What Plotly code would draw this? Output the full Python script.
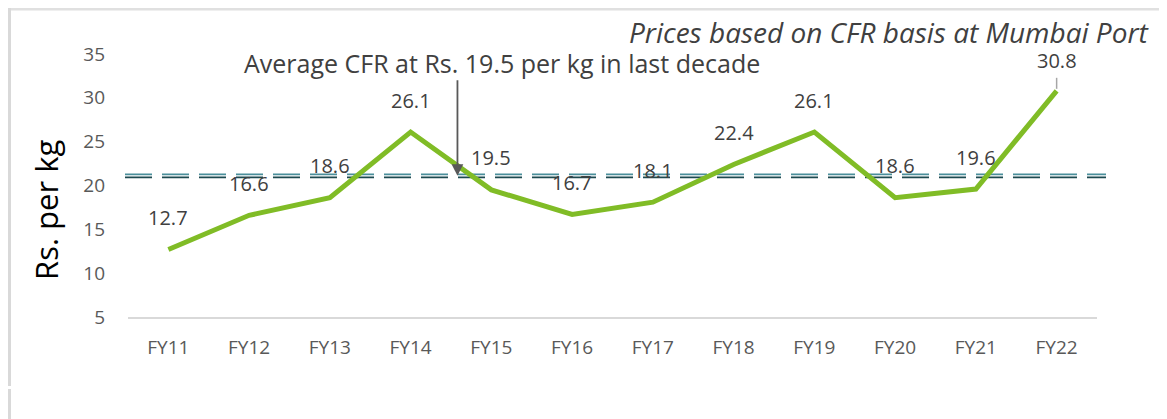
import plotly.graph_objects as go

# ---- data ----
years = ["FY11", "FY12", "FY13", "FY14", "FY15", "FY16", "FY17", "FY18", "FY19", "FY20", "FY21", "FY22"]
prices = [12.7, 16.6, 18.6, 26.1, 19.5, 16.7, 18.1, 22.4, 26.1, 18.6, 19.6, 30.8]
avg_line_level = 21.1
y_ticks = [5, 10, 15, 20, 25, 30, 35]
avg_text = "Average CFR at Rs. 19.5 per kg in last decade"
note_text = "Prices based on CFR basis at Mumbai Port"
y_title = "Rs. per kg"

OFF = 8  # page body margin
W, H = 1167 - OFF, 419 - OFF
L, T = 128 - OFF, 54 - OFF
R = W - (1097 - OFF)
B = H - (317 - OFF)
pw, ph = W - L - R, H - T - B


def px(xp):
    return (xp - OFF - L) / pw


def py(yp):
    return (H - B - (yp - OFF)) / ph


FONT = "Open Sans"
fig = go.Figure()

fig.add_trace(go.Scatter(
    x=years, y=prices, mode="lines",
    line=dict(color="#80bc26", width=5),
    hoverinfo="skip", showlegend=False, cliponaxis=False,
))

# data labels
for i, (yr, v) in enumerate(zip(years, prices)):
    fig.add_annotation(x=yr, y=v, text=f"{v}", showarrow=False,
                       yshift=30 if i == len(years) - 1 else 32, borderpad=0,
                       font=dict(family=FONT, size=20, color="#404040"))

# leader line for FY22
fig.add_shape(type="line", xref="x", yref="y", x0=years[-1], x1=years[-1],
              ysizemode="pixel", yanchor=prices[-1], y0=2, y1=13,
              line=dict(color="#a6a6a6", width=1.5))

# double dashed average line
fig.add_shape(type="line", xref="paper", yref="y", x0=px(125), x1=px(1106),
              ysizemode="pixel", yanchor=avg_line_level, y0=1.5, y1=1.5,
              line=dict(color="#4a8e9a", width=1.6, dash="27px,10px"), layer="below")
fig.add_shape(type="line", xref="paper", yref="y", x0=px(125), x1=px(1106),
              ysizemode="pixel", yanchor=avg_line_level, y0=-1.5, y1=-1.5,
              line=dict(color="#1d4a50", width=1.6, dash="27px,10px"), layer="below")

# arrow
fig.add_annotation(x=3.58, y=avg_line_level, xref="x", yref="y", ax=0, ay=-97,
                   text="", showarrow=True, arrowhead=2, arrowsize=1.3, arrowwidth=1.8,
                   arrowcolor="#595959", standoff=0)

fig.add_annotation(xref="paper", yref="paper", x=px(242), y=py(63), xanchor="left", yanchor="middle",
                   text=avg_text, showarrow=False,
                   font=dict(family=FONT, size=25, color="#404040"))
fig.add_annotation(xref="paper", yref="paper", x=px(1151), y=py(32), xanchor="right", yanchor="middle",
                   text=f"<i>{note_text}</i>", showarrow=False, borderpad=0,
                   font=dict(family=FONT, size=28, color="#404040"))
fig.add_annotation(xref="paper", yref="paper", x=px(46), y=py(210), xanchor="center", yanchor="middle",
                   text=y_title, textangle=-90, showarrow=False,
                   font=dict(family=FONT, size=31, color="#000000"))

# frame
fig.add_shape(type="line", xref="paper", yref="paper", x0=px(9.5), x1=px(9.5), y0=py(8), y1=py(386),
              line=dict(color="#d9d9d9", width=3))
fig.add_shape(type="line", xref="paper", yref="paper", x0=px(9.5), x1=px(9.5), y0=py(389), y1=py(425),
              line=dict(color="#d9d9d9", width=3))
fig.add_shape(type="line", xref="paper", yref="paper", x0=px(11), x1=px(1162), y0=py(9), y1=py(9),
              line=dict(color="#e0e0e0", width=3))
fig.add_shape(type="line", xref="paper", yref="paper", x0=px(1165.5), x1=px(1165.5), y0=py(10), y1=py(425),
              line=dict(color="#d9d9d9", width=1.5))

fig.update_layout(
    width=W, height=H,
    margin=dict(l=L, r=R, t=T, b=B, pad=0),
    paper_bgcolor="white", plot_bgcolor="white",
    font=dict(family=FONT),
    xaxis=dict(type="category", range=[-0.5, 11.5], showgrid=False, zeroline=False,
               showline=True, linecolor="#d9d9d9", linewidth=2, ticks="",
               tickfont=dict(family=FONT, size=19, color="#595959"), ticklabelstandoff=12),
    yaxis=dict(range=[5, 35], tickvals=y_ticks, showgrid=False, zeroline=False, showline=False,
               ticks="", tickfont=dict(family=FONT, size=19, color="#595959"), ticklabelstandoff=22),
)

fig.write_html("out.html")
